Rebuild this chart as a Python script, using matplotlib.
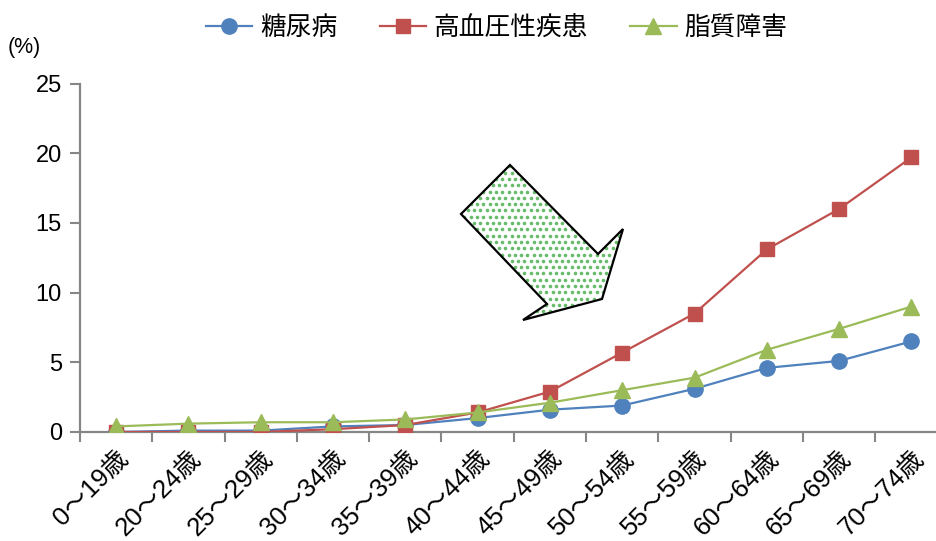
import numpy as np
import matplotlib
matplotlib.use('Agg')
import matplotlib.pyplot as plt
from matplotlib.patches import Polygon

plt.rcParams['font.family'] = ['Liberation Sans', 'Noto Sans CJK JP']

# 年齢階級
ages = ['0～19歳', '20～24歳', '25～29歳', '30～34歳', '35～39歳', '40～44歳',
        '45～49歳', '50～54歳', '55～59歳', '60～64歳', '65～69歳', '70～74歳']
# 有病率 (%)
diabetes = [0.0, 0.1, 0.1, 0.4, 0.5, 1.0, 1.6, 1.9, 3.1, 4.6, 5.1, 6.5]
hypertension = [0.0, 0.0, 0.0, 0.2, 0.5, 1.4, 2.9, 5.7, 8.5, 13.1, 16.0, 19.7]
lipid = [0.4, 0.6, 0.7, 0.7, 0.9, 1.4, 2.1, 3.0, 3.9, 5.9, 7.4, 9.0]

W, H = 937, 541
fig = plt.figure(figsize=(W / 100, H / 100), dpi=100)
ax = fig.add_axes([80 / W, (H - 432) / H, 867.6 / W, (432 - 83.5) / H])

x = np.arange(len(ages))
ax.plot(x, diabetes, color='#4F81BD', lw=1.6, marker='o', ms=11, label='糖尿病')
ax.plot(x, hypertension, color='#C0504D', lw=1.6, marker='s', ms=10.5, label='高血圧性疾患')
ax.plot(x, lipid, color='#9BBB59', lw=1.6, marker='^', ms=11.5, label='脂質障害')

ax.set_xlim(-0.5, len(ages) - 0.5)
ax.set_ylim(0, 25)
ax.set_yticks(range(0, 26, 5))
ax.set_xticks(np.arange(len(ages) + 1) - 0.5, minor=True)
ax.set_xticks(x)
ax.set_xticklabels(ages, rotation=45, ha='right', rotation_mode='anchor', fontsize=18.5)
ax.tick_params(axis='x', which='major', length=0, pad=10)
ax.tick_params(axis='x', which='minor', length=7, width=1.5, color='#868686', direction='out')
ax.tick_params(axis='y', length=7, width=1.5, color='#868686', labelsize=17, pad=6)
for s in ['top', 'right']:
    ax.spines[s].set_visible(False)
for s in ['left', 'bottom']:
    ax.spines[s].set_color('#868686')
    ax.spines[s].set_linewidth(1.6)
ax.spines['bottom'].set_zorder(0)

fig.text(8 / W, 1 - 47 / H, '(%)', fontsize=15.5, va='center', ha='left')

fig.legend(loc='center', bbox_to_anchor=(0.53, 1 - 28 / H), ncol=3, frameon=False,
           fontsize=18.5, handlelength=1.8, columnspacing=1.65, handletextpad=0.3)

# 矢印 (ドット模様)
arrow_px = np.array([(510, 165), (461, 214), (547, 304), (523, 320),
                     (602, 299), (623, 229), (598, 254)], dtype=float)
arrow = np.column_stack([arrow_px[:, 0] / W, 1 - arrow_px[:, 1] / H])
fill = Polygon(arrow, closed=True, transform=fig.transFigure, facecolor='white',
               edgecolor='none', zorder=3)
fig.add_artist(fill)
gx, gy = np.meshgrid(np.arange(455, 630, 6.3), np.arange(160, 330, 6.3))
gx[1::2] += 3.15
dots = fig.add_artist(plt.Line2D(gx.ravel() / W, 1 - gy.ravel() / H, ls='none',
                                 marker='o', ms=2.6, mew=0, color='#4CAF50', alpha=0.85,
                                 transform=fig.transFigure, zorder=4))
dots.set_clip_path(fill)
edge = Polygon(arrow, closed=True, transform=fig.transFigure, facecolor='none',
               edgecolor='black', lw=1.6, joinstyle='miter', zorder=5)
fig.add_artist(edge)

fig.savefig('out.png', dpi=100)
